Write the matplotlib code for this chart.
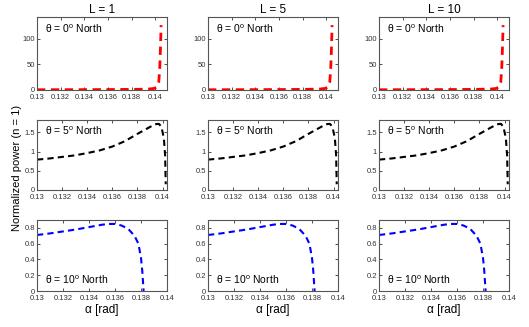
import numpy as np
import matplotlib
matplotlib.use('Agg')
import matplotlib.pyplot as plt

plt.rcParams['font.family'] = ['Liberation Sans', 'DejaVu Sans']
plt.rcParams['mathtext.fontset'] = 'custom'
plt.rcParams['mathtext.rm'] = 'Liberation Sans'

# data (same curves in every column)
L_values = [1, 5, 10]
theta_labels = ['0', '5', '10']

alpha_0 = [0.1300, 0.1320, 0.1340, 0.1360, 0.1380, 0.1390, 0.1395, 0.1399,
           0.1401, 0.1402, 0.14030, 0.14038, 0.14043, 0.14047, 0.14050]
power_0 = [0.5, 0.6, 0.7, 0.9, 1.2, 1.6, 2.0, 3.0,
           5.0, 8.0, 15.0, 40.0, 70.0, 100.0, 127.0]

alpha_5 = [0.1300, 0.1310, 0.1320, 0.1330, 0.1340, 0.1350, 0.1360, 0.1370,
           0.1380, 0.1390, 0.1394, 0.1397, 0.1399, 0.1401, 0.1402, 0.14025]
power_5 = [0.79, 0.82, 0.86, 0.90, 0.96, 1.03, 1.13, 1.27,
           1.46, 1.64, 1.71, 1.72, 1.65, 1.35, 0.90, 0.15]

alpha_10 = [0.1300, 0.1310, 0.1320, 0.1330, 0.1340, 0.1350, 0.1355, 0.1360,
            0.1365, 0.1370, 0.1375, 0.1378, 0.1380, 0.1381, 0.1382]
power_10 = [0.71, 0.73, 0.755, 0.78, 0.81, 0.84, 0.85, 0.85,
            0.83, 0.79, 0.70, 0.60, 0.42, 0.25, 0.0]

alphas = [alpha_0, alpha_5, alpha_10]
powers = [power_0, power_5, power_10]
colors = ['red', 'black', 'blue']
xlims = [(0.13, 0.141), (0.13, 0.14035), (0.13, 0.14)]
ylims = [(0, 143), (0, 1.82), (0, 0.9)]
yticks = [[0, 50, 100], [0, 0.5, 1, 1.5], [0, 0.2, 0.4, 0.6, 0.8]]
ytl = [['0', '50', '100'], ['0', '0.5', '1', '1.5'], ['0', '0.2', '0.4', '0.6', '0.8']]
xticks = [0.13, 0.132, 0.134, 0.136, 0.138, 0.14]
xtl = ['0.13', '0.132', '0.134', '0.136', '0.138', '0.14']

W, H = 529, 327
fig = plt.figure(figsize=(W / 100, H / 100), dpi=100)

col_left = [37, 208, 379]
col_w = 130
row_tb = [(17, 90), (120, 190), (220, 291)]

for r in range(3):
    for c in range(3):
        top, bot = row_tb[r]
        ax = fig.add_axes([col_left[c] / W, 1 - bot / H, col_w / W, (bot - top) / H])
        lw = 2.0 if r == 0 else 1.5
        ax.plot(alphas[r], powers[r], color=colors[r], lw=lw,
                linestyle=(0, (3, 2)))
        ax.set_xlim(*xlims[r])
        ax.set_ylim(*ylims[r])
        ax.set_xticks(xticks)
        ax.set_xticklabels(xtl)
        ax.set_yticks(yticks[r])
        ax.set_yticklabels(ytl[r])
        ax.tick_params(direction='in', length=2, width=0.6, labelsize=5.5,
                       top=True, right=True, colors='#333333')
        ax.tick_params(axis='x', pad=3)
        ax.tick_params(axis='y', pad=1.5)
        for s in ax.spines.values():
            s.set_linewidth(0.8)
            s.set_color('#555555')
        txt = r'θ = %s$^{\mathrm{o}}$ North' % theta_labels[r]
        if r < 2:
            ax.text(0.06, 0.84, txt, transform=ax.transAxes, fontsize=7.5,
                    va='center', ha='left')
        else:
            ax.text(0.06, 0.16, txt, transform=ax.transAxes, fontsize=7.5,
                    va='center', ha='left')
        if r == 0:
            ax.set_title('L = %d' % L_values[c], fontsize=8.5, pad=3)
        if r == 2:
            ax.set_xlabel('α [rad]', fontsize=8.5, labelpad=1)

fig.text(17 / W, 1 - 168 / H, 'Normalized power (n = 1)', rotation=90,
         ha='center', va='center', fontsize=8)

fig.savefig('out.png', dpi=100)
